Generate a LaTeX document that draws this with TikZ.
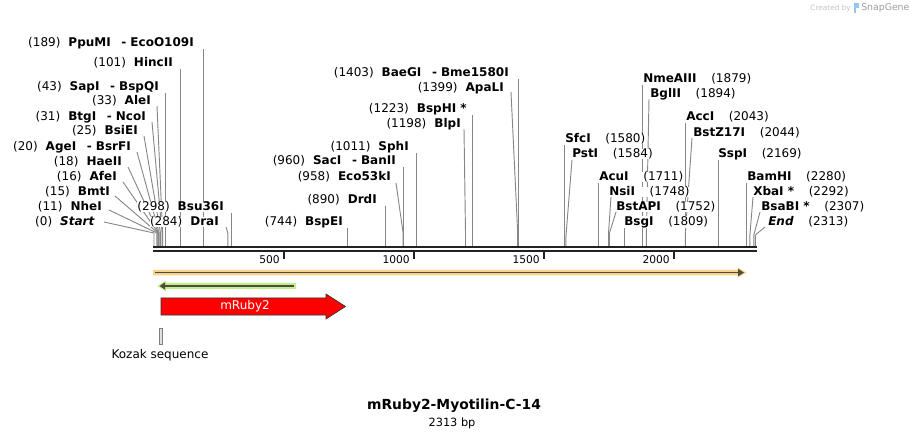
\documentclass[tikz,border=0pt]{standalone}
\usepackage{fontspec}
\setmainfont{DejaVu Sans}
\usepackage{tikz}
\usetikzlibrary{calc, backgrounds}
\definecolor{bardark}{RGB}{34, 34, 34}
\definecolor{cutgray}{RGB}{135, 135, 135}
\definecolor{numgray}{RGB}{40, 40, 40}
\definecolor{featorange}{RGB}{250, 210, 140}
\definecolor{featgreen}{RGB}{192, 240, 140}
\definecolor{featline}{RGB}{78, 76, 60}
\definecolor{rubyred}{RGB}{255, 0, 0}
\definecolor{creditgray}{RGB}{195, 195, 195}
\definecolor{creditblue}{RGB}{150, 200, 235}

\begin{document}
\begin{tikzpicture}[x=0.75pt, y=-0.75pt,
    enz/.style={inner sep=0pt, fill=white, font=\fontsize{9}{10}\selectfont},
    enzL/.style={enz, anchor=east},
    enzR/.style={enz, anchor=west},
    cut/.style={draw=cutgray, line width=0.7pt},
    ticklabel/.style={inner sep=0pt, anchor=east, font=\fontsize{8}{9}\selectfont},
    tickmark/.style={bardark, line width=1.2pt}
]
    \useasboundingbox (0,0) rectangle (910,438);

    % Cut sites (top of the map bar)
    \coordinate (s0) at (154.0,246);
    \coordinate (s11) at (156.9,246);
    \coordinate (s15) at (157.9,246);
    \coordinate (s16) at (158.2,246);
    \coordinate (s18) at (158.7,246);
    \coordinate (s20) at (159.2,246);
    \coordinate (s25) at (160.5,246);
    \coordinate (s31) at (162.1,246);
    \coordinate (s33) at (162.6,246);
    \coordinate (s43) at (165.2,246);
    \coordinate (s101) at (180.3,246);
    \coordinate (s189) at (203.1,246);
    \coordinate (s284) at (227.8,246);
    \coordinate (s298) at (231.5,246);
    \coordinate (s744) at (347.4,246);
    \coordinate (s890) at (385.4,246);
    \coordinate (s958) at (403.1,246);
    \coordinate (s960) at (403.6,246);
    \coordinate (s1011) at (416.9,246);
    \coordinate (s1198) at (465.5,246);
    \coordinate (s1223) at (472.0,246);
    \coordinate (s1399) at (517.7,246);
    \coordinate (s1403) at (518.8,246);
    \coordinate (s1580) at (564.8,246);
    \coordinate (s1584) at (565.8,246);
    \coordinate (s1711) at (598.9,246);
    \coordinate (s1748) at (608.5,246);
    \coordinate (s1752) at (609.5,246);
    \coordinate (s1809) at (624.3,246);
    \coordinate (s1879) at (642.5,246);
    \coordinate (s1894) at (646.4,246);
    \coordinate (s2043) at (685.2,246);
    \coordinate (s2044) at (685.4,246);
    \coordinate (s2169) at (718.0,246);
    \coordinate (s2280) at (746.8,246);
    \coordinate (s2292) at (749.9,246);
    \coordinate (s2307) at (753.8,246);
    \coordinate (s2313) at (755.4,246);

    % Enzyme labels, left side
    \node[enzL] (ppumi) at (194,43) {(189)\hspace{6pt}\textbf{PpuMI\hspace{8pt}-\hspace{3pt}EcoO109I}};
    \node[enzL] (hincii) at (173,63) {(101)\hspace{6pt}\textbf{HincII}};
    \node[enzL] (sapi) at (159,87) {(43)\hspace{6pt}\textbf{SapI\hspace{8pt}-\hspace{3pt}BspQI}};
    \node[enzL] (alei) at (151,101) {(33)\hspace{6pt}\textbf{AleI}};
    \node[enzL] (btgi) at (146,117) {(31)\hspace{6pt}\textbf{BtgI\hspace{8pt}-\hspace{3pt}NcoI}};
    \node[enzL] (bsiei) at (138,131) {(25)\hspace{6pt}\textbf{BsiEI}};
    \node[enzL] (agei) at (131,147) {(20)\hspace{6pt}\textbf{AgeI\hspace{8pt}-\hspace{3pt}BsrFI}};
    \node[enzL] (haeii) at (122,162) {(18)\hspace{6pt}\textbf{HaeII}};
    \node[enzL] (afei) at (117,177) {(16)\hspace{6pt}\textbf{AfeI}};
    \node[enzL] (bmti) at (110,192) {(15)\hspace{6pt}\textbf{BmtI}};
    \node[enzL] (nhei) at (102,207) {(11)\hspace{6pt}\textbf{NheI}};
    \node[enzL] (start) at (95,222) {(0)\hspace{6pt}\textbf{\textit{Start}}};
    \node[enzL] (bsu36i) at (224,207) {(298)\hspace{6pt}\textbf{Bsu36I}};
    \node[enzL] (drai) at (219,222) {(284)\hspace{6pt}\textbf{DraI}};

    % Enzyme labels, middle
    \node[enzL] (baegi) at (509,73) {(1403)\hspace{6pt}\textbf{BaeGI\hspace{8pt}-\hspace{3pt}Bme1580I}};
    \node[enzL] (apali) at (504,88) {(1399)\hspace{6pt}\textbf{ApaLI}};
    \node[enzL] (bsphi) at (467,109) {(1223)\hspace{6pt}\textbf{BspHI *}};
    \node[enzL] (blpi) at (461,124) {(1198)\hspace{6pt}\textbf{BlpI}};
    \node[enzL] (sphi) at (409,147) {(1011)\hspace{6pt}\textbf{SphI}};
    \node[enzL] (saci) at (396,161) {(960)\hspace{6pt}\textbf{SacI\hspace{8pt}-\hspace{3pt}BanII}};
    \node[enzL] (eco53ki) at (391,177) {(958)\hspace{6pt}\textbf{Eco53kI}};
    \node[enzL] (drdi) at (377,200) {(890)\hspace{6pt}\textbf{DrdI}};
    \node[enzL] (bspei) at (343,222) {(744)\hspace{6pt}\textbf{BspEI}};

    % Enzyme labels, right side
    \node[enzR] (nmeaiii) at (643,79) {\textbf{NmeAIII}\hspace{11pt}(1879)};
    \node[enzR] (bglii) at (650,94) {\textbf{BglII}\hspace{11pt}(1894)};
    \node[enzR] (acci) at (686,117) {\textbf{AccI}\hspace{11pt}(2043)};
    \node[enzR] (bstz17i) at (693,133) {\textbf{BstZ17I}\hspace{11pt}(2044)};
    \node[enzR] (sfci) at (565,139) {\textbf{SfcI}\hspace{11pt}(1580)};
    \node[enzR] (psti) at (572,154) {\textbf{PstI}\hspace{11pt}(1584)};
    \node[enzR] (sspi) at (718,154) {\textbf{SspI}\hspace{11pt}(2169)};
    \node[enzR] (acui) at (599,177) {\textbf{AcuI}\hspace{11pt}(1711)};
    \node[enzR] (nsii) at (609,192) {\textbf{NsiI}\hspace{11pt}(1748)};
    \node[enzR] (bstapi) at (616,207) {\textbf{BstAPI}\hspace{11pt}(1752)};
    \node[enzR] (bsgi) at (624,222) {\textbf{BsgI}\hspace{11pt}(1809)};
    \node[enzR] (bamhi) at (747,177) {\textbf{BamHI}\hspace{11pt}(2280)};
    \node[enzR] (xbai) at (753,192) {\textbf{XbaI *}\hspace{11pt}(2292)};
    \node[enzR] (bsabi) at (761,207) {\textbf{BsaBI *}\hspace{11pt}(2307)};
    \node[enzR] (endsite) at (768,222) {\textbf{\textit{End}}\hspace{11pt}(2313)};

    % Cut lines, behind the labels
    \begin{scope}[on background layer]
        \draw[cut] (s189 |- ppumi.south) -- (s189);
        \draw[cut] (s101 |- hincii.south) -- (s101);
        \draw[cut] (s43 |- sapi.south) -- (s43);
        \draw[cut] ($(alei.east)+(6,5)$) -- ($(s33)+(0,-13)$) -- (s33);
        \draw[cut] ($(btgi.east)+(6,5)$) -- ($(s31)+(0,-13)$) -- (s31);
        \draw[cut] ($(bsiei.east)+(6,5)$) -- ($(s25)+(0,-13)$) -- (s25);
        \draw[cut] ($(agei.east)+(6,5)$) -- ($(s20)+(0,-13)$) -- (s20);
        \draw[cut] ($(haeii.east)+(6,5)$) -- ($(s18)+(0,-13)$) -- (s18);
        \draw[cut] ($(afei.east)+(6,5)$) -- ($(s16)+(0,-13)$) -- (s16);
        \draw[cut] ($(bmti.east)+(5,4)$) -- ($(s15)+(0,-13)$) -- (s15);
        \draw[cut] ($(nhei.east)+(7,3)$) -- ($(s11)+(0,-13)$) -- (s11);
        \draw[cut] ($(start.east)+(9,0)$) -- ($(s0)+(0,-13)$) -- (s0);
        \draw[cut] (s298 |- bsu36i.south) -- (s298);
        \draw[cut] ($(drai.east)+(7,5)$) -- ($(s284)+(0,-13)$) -- (s284);

        \draw[cut] (s1403 |- baegi.south) -- (s1403);
        \draw[cut] ($(apali.east)+(7,4)$) -- ($(s1399)+(0,-13)$) -- (s1399);
        \draw[cut] (s1223 |- bsphi.south) -- (s1223);
        \draw[cut] ($(blpi.east)+(3,5)$) -- ($(s1198)+(0,-13)$) -- (s1198);
        \draw[cut] (s1011 |- sphi.south) -- (s1011);
        \draw[cut] (s960 |- saci.south) -- (s960);
        \draw[cut] ($(eco53ki.east)+(5,6)$) -- ($(s958)+(0,-13)$) -- (s958);
        \draw[cut] (s890 |- drdi.south) -- (s890);
        \draw[cut] (s744 |- bspei.south) -- (s744);

        \draw[cut] (s1879 |- nmeaiii.south) -- (s1879);
        \draw[cut] ($(bglii.west)+(-1,5)$) -- ($(s1894)+(0,-13)$) -- (s1894);
        \draw[cut] (s2043 |- acci.south) -- (s2043);
        \draw[cut] ($(bstz17i.west)+(-1,5)$) -- ($(s2044)+(0,-13)$) -- (s2044);
        \draw[cut] (s1580 |- sfci.south) -- (s1580);
        \draw[cut] ($(psti.west)+(0,6)$) -- ($(s1584)+(0,-8)$) -- (s1584);
        \draw[cut] (s2169 |- sspi.south) -- (s2169);
        \draw[cut] (s1711 |- acui.south) -- (s1711);
        \draw[cut] ($(nsii.west)+(2,5)$) -- ($(s1748)+(0,-13)$) -- (s1748);
        \draw[cut] ($(bstapi.west)+(0,5)$) -- ($(s1752)+(0,-13)$) -- (s1752);
        \draw[cut] (s1809 |- bsgi.south) -- (s1809);
        \draw[cut] (s2280 |- bamhi.south) -- (s2280);
        \draw[cut] ($(xbai.west)+(0,5)$) -- ($(s2292)+(0,-11)$) -- (s2292);
        \draw[cut] ($(bsabi.west)+(-1,5)$) -- ($(s2307)+(0,-11)$) -- (s2307);
        \draw[cut] ($(endsite.west)+(-3,5)$) -- ($(s2313)+(0,-11)$) -- (s2313);
    \end{scope}

    % Map bar
    \draw[bardark, line width=1.7pt] (153,247.2) -- (757,247.2);
    \draw[bardark, line width=1.5pt] (153,251.3) -- (757,251.3);

    % Scale
    \draw[tickmark] (284,251) -- (284,258.8);
    \draw[tickmark] (414,251) -- (414,258.8);
    \draw[tickmark] (544,251) -- (544,258.8);
    \draw[tickmark] (674,251) -- (674,258.8);
    \node[ticklabel] (t500) at (280,259.5) {500};
    \node[ticklabel] (t1000) at (410,259.5) {1000};
    \node[ticklabel] (t1500) at (540,259.5) {1500};
    \node[ticklabel] (t2000) at (670,259.5) {2000};

    % Features
    \fill[featorange] (153,270) -- (737.5,270) -- (737.5,267.3) -- (746.5,272.6)
        -- (737.5,277.9) -- (737.5,275.3) -- (153,275.3) -- cycle;
    \draw[featline, line width=1pt] (155,272.6) -- (739,272.6);
    \fill[featline] (738,268.8) -- (744,272.6) -- (738,276.4) -- cycle;

    \fill[featgreen] (296,283.2) -- (166,283.2) -- (166,280.7) -- (157.3,286)
        -- (166,291.3) -- (166,288.8) -- (296,288.8) -- cycle;
    \draw[featline, line width=1pt] (294,286) -- (164,286);
    \fill[featline] (165,282.4) -- (159.5,286) -- (165,289.6) -- cycle;

    \draw[draw=black!80, fill=rubyred, line width=0.5pt] (161,298) -- (326,298) -- (326,294)
        -- (345.5,306.5) -- (326,319) -- (326,315) -- (161,315) -- cycle;
    \node[text=white, font=\fontsize{9}{10}\selectfont] (mruby) at (245,306.5) {mRuby2};

    \draw[draw=gray, fill=gray!25, line width=0.5pt] (159.5,328) rectangle (162.5,344);
    \node[font=\fontsize{9}{10}\selectfont] (kozak) at (160,355) {Kozak sequence};

    % Title
    \node[font=\fontsize{10.4}{12}\selectfont\bfseries] (title) at (454,406) {mRuby2-Myotilin-C-14};
    \node[font=\fontsize{8.5}{10}\selectfont] (length) at (452,423) {2313 bp};

    % Credit
    \node[text=creditgray, font=\fontsize{5.5}{6}\selectfont, anchor=east, inner sep=0pt] (credit) at (851,8) {Created by};
    \fill[creditblue] (853.5,3.5) rectangle (856,13);
    \fill[creditblue] (856,3.5) rectangle (858.5,8);
    \node[text=creditgray!80!black, font=\fontsize{7}{8}\selectfont, anchor=west, inner sep=0pt] (snapgene) at (861,8) {SnapGene};
\end{tikzpicture}
\end{document}
